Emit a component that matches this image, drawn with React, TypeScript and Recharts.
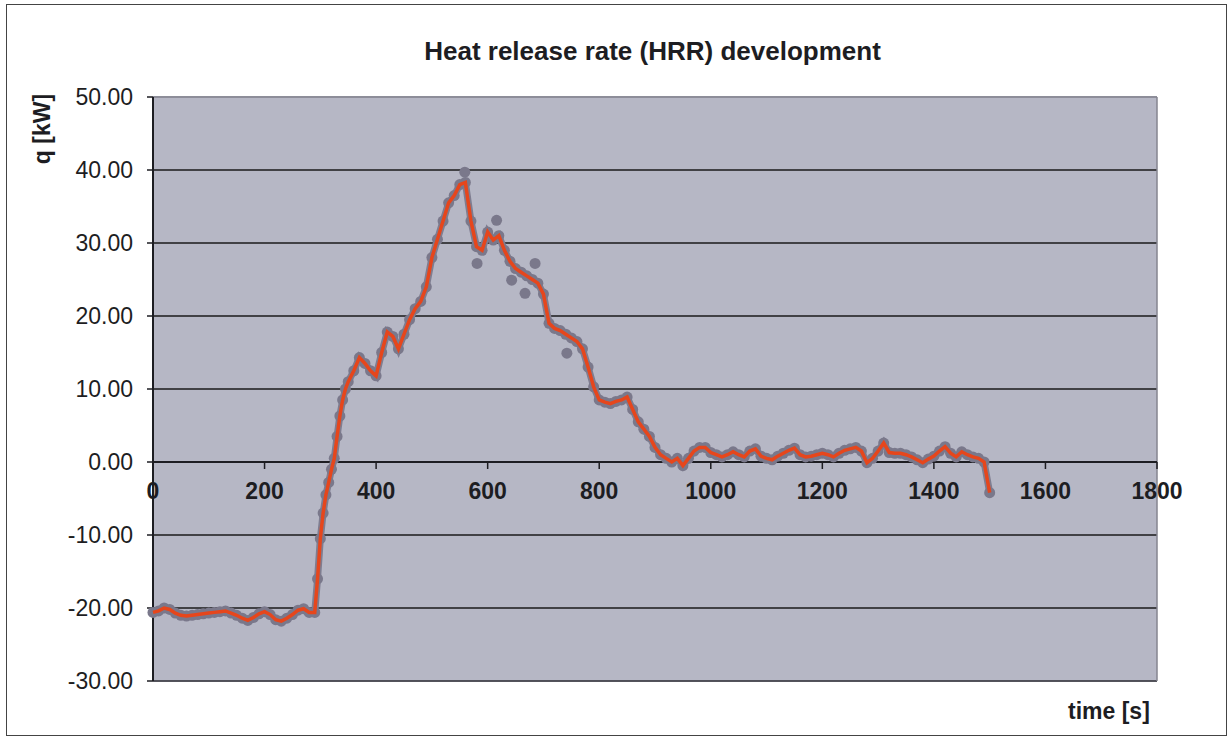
import { ComposedChart, Line, Scatter, XAxis, YAxis, CartesianGrid, ReferenceLine } from 'recharts'

// time axis [s] and heat release rate [kW]
const timeS = [
  0, 10, 20, 30, 40, 50, 60, 70, 80, 90, 100, 110, 120, 130, 140, 150, 160, 170, 180, 190,
  200, 210, 220, 230, 240, 250, 260, 270, 280, 290, 295, 300, 305, 310, 315, 320, 325, 330, 335, 340,
  345, 350, 360, 370, 380, 390, 400, 410, 420, 430, 440, 450, 460, 470, 480, 490, 500, 510, 520, 530,
  540, 550, 560, 570, 580, 590, 600, 610, 620, 630, 640, 650, 660, 670, 680, 690, 700, 710, 720, 730,
  740, 750, 760, 770, 780, 790, 800, 810, 820, 830, 840, 850, 860, 870, 880, 890, 900, 910, 920, 930,
  940, 950, 960, 970, 980, 990, 1000, 1010, 1020, 1030, 1040, 1050, 1060, 1070, 1080, 1090, 1100, 1110, 1120, 1130,
  1140, 1150, 1160, 1170, 1180, 1190, 1200, 1210, 1220, 1230, 1240, 1250, 1260, 1270, 1280, 1290, 1300, 1310, 1320, 1330,
  1340, 1350, 1360, 1370, 1380, 1390, 1400, 1410, 1420, 1430, 1440, 1450, 1460, 1470, 1480, 1490, 1500,
]
const hrrKw = [
  -20.6, -20.4, -20.0, -20.2, -20.7, -21.0, -21.1, -21.0, -20.9, -20.8, -20.7, -20.6, -20.5, -20.4, -20.7, -21.0, -21.4, -21.7, -21.3, -20.8,
  -20.5, -20.9, -21.6, -21.8, -21.4, -20.9, -20.3, -20.1, -20.6, -20.6, -16.0, -10.5, -7.0, -4.5, -2.8, -1.0, 0.5, 3.5, 6.3, 8.5,
  10.0, 11.0, 12.5, 14.3, 13.5, 12.5, 11.8, 15.0, 17.8, 17.2, 15.5, 17.5, 19.5, 21.0, 22.0, 24.0, 28.0, 30.5, 33.0, 35.5,
  36.5, 38.0, 38.3, 33.0, 29.5, 29.0, 31.5, 30.4, 31.0, 29.0, 27.5, 26.5, 26.0, 25.5, 25.0, 24.5, 23.0, 19.0, 18.3, 18.0,
  17.5, 17.0, 16.5, 15.5, 13.0, 10.3, 8.5, 8.2, 8.0, 8.3, 8.5, 8.9, 7.2, 5.5, 4.5, 3.5, 2.0, 1.0, 0.5, 0.0,
  0.5, -0.5, 0.5, 1.5, 2.0, 2.0, 1.3, 1.0, 0.7, 1.0, 1.4, 1.0, 0.7, 1.5, 1.8, 0.8, 0.5, 0.3, 0.8, 1.2,
  1.6, 1.9, 1.0, 0.7, 0.8, 1.0, 1.2, 1.0, 0.7, 1.2, 1.6, 1.8, 2.0, 1.5, -0.1, 0.5, 1.5, 2.6, 1.3, 1.2,
  1.2, 1.0, 0.7, 0.3, -0.1, 0.4, 0.8, 1.5, 2.1, 1.2, 0.7, 1.4, 1.0, 0.7, 0.5, 0.0, -4.2,
]
// stray measurement points that sit off the red line
const strayTimeS = [559, 581, 616, 643, 667, 685, 742]
const strayKw = [39.7, 27.2, 33.1, 24.9, 23.1, 27.2, 14.9]

const xTicks = [0, 200, 400, 600, 800, 1000, 1200, 1400, 1600, 1800]
const yTicks = [-30, -20, -10, 0, 10, 20, 30, 40, 50]

const rows = timeS.map((t, i) => ({ t, q: hrrKw[i] }))
const strayRows = strayTimeS.map((t, i) => ({ t, q: strayKw[i] }))

const W = 1231
const H = 738
const TOP = 97
const RIGHT = 74
const X_AXIS_H = 57
const Y_AXIS_W = 153
const Y_MIN = -30
const Y_MAX = 50
const ZERO_Y = TOP + ((H - TOP - X_AXIS_H) * Y_MAX) / (Y_MAX - Y_MIN)
const FONT = '"Liberation Sans", Arial, sans-serif'
const INK = '#1d1d22'

function TimeTick({ x, payload }: { x?: number; payload?: { value: number } }) {
  return (
    <g>
      <line x1={x} x2={x} y1={ZERO_Y} y2={ZERO_Y + 7} stroke={INK} strokeWidth={1.5} />
      <text x={x} y={ZERO_Y + 37} textAnchor="middle" fontSize={23} fontWeight="bold" fill={INK} fontFamily={FONT}>
        {payload?.value}
      </text>
    </g>
  )
}

const dot = (p: { cx?: number; cy?: number }) => <circle cx={p.cx} cy={p.cy} r={5.5} fill="#7a788b" />

export default function App() {
  return (
    <div style={{ position: 'absolute', left: 0, top: 0, width: W, height: H, background: '#fff', fontFamily: FONT }}>
      <div style={{ position: 'absolute', left: 6, top: 4, width: 1219, height: 730, border: '1px solid #444' }} />
      <div style={{ position: 'absolute', left: 0, top: 0 }}>
        <ComposedChart width={W} height={H} data={rows} margin={{ top: TOP, right: RIGHT, bottom: 0, left: 0 }}>
          <CartesianGrid vertical={false} stroke="#1a1a1a" strokeWidth={1.5} fill="#b6b7c5" fillOpacity={1} />
          <XAxis type="number" dataKey="t" domain={[0, 1800]} ticks={xTicks} axisLine={false} tickLine={false}
            height={X_AXIS_H} tick={<TimeTick />} interval={0} />
          <YAxis type="number" domain={[Y_MIN, Y_MAX]} ticks={yTicks} width={Y_AXIS_W} interval={0}
            axisLine={{ stroke: INK, strokeWidth: 2 }} tickLine={{ stroke: INK, strokeWidth: 1.5 }} tickSize={6} tickMargin={14}
            tickFormatter={(v: number) => v.toFixed(2)}
            tick={{ fill: INK, fontSize: 23, fontFamily: FONT }} />
          <ReferenceLine y={50} stroke="#8d8d99" strokeWidth={2} />
          <ReferenceLine y={-30} stroke="#55555f" strokeWidth={1.5} />
          <ReferenceLine x={1800} stroke="#85858f" strokeWidth={1.5} />
          <ReferenceLine y={0} stroke={INK} strokeWidth={2} />
          <Line dataKey="q" stroke="#7f7d90" strokeWidth={7} dot={dot} isAnimationActive={false} />
          <Scatter data={strayRows} dataKey="q" shape={dot} isAnimationActive={false} />
        </ComposedChart>
      </div>
      {/* red line on a transparent chart laid over the first one, so it stays above the grey markers */}
      <div style={{ position: 'absolute', left: 0, top: 0 }}>
        <ComposedChart width={W} height={H} data={rows} margin={{ top: TOP, right: RIGHT, bottom: X_AXIS_H, left: Y_AXIS_W }}>
          <XAxis type="number" dataKey="t" domain={[0, 1800]} hide />
          <YAxis type="number" domain={[Y_MIN, Y_MAX]} hide />
          <Line dataKey="q" stroke="#e6461c" strokeWidth={3.5} dot={false} isAnimationActive={false} />
        </ComposedChart>
      </div>
      <div style={{ position: 'absolute', left: 0, width: W + 74, top: 36, textAlign: 'center', fontSize: 26, fontWeight: 'bold', color: INK }}>
        Heat release rate (HRR) development
      </div>
      <div style={{ position: 'absolute', left: 42, top: 129, transform: 'translate(-50%, -50%) rotate(-90deg)', fontSize: 23, fontWeight: 'bold', color: INK, whiteSpace: 'nowrap' }}>
        q [kW]
      </div>
      <div style={{ position: 'absolute', left: 1068, top: 698, fontSize: 23, fontWeight: 'bold', color: INK }}>
        time [s]
      </div>
    </div>
  )
}
